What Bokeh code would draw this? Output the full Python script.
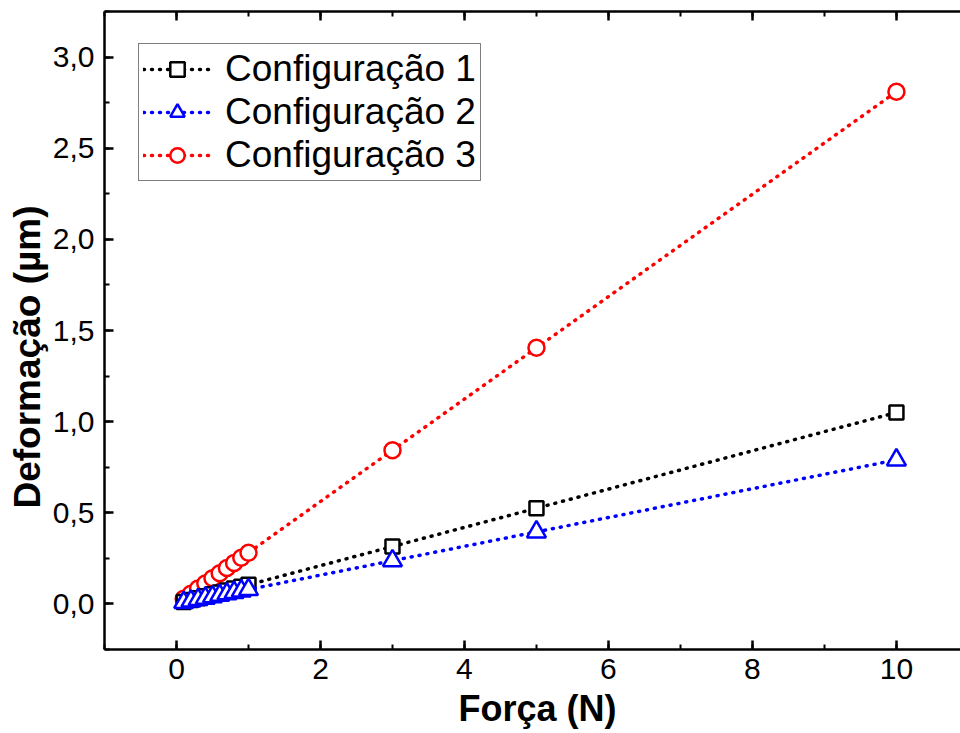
from bokeh.plotting import figure
from bokeh.models import (Range1d, LinearAxis, Legend, LegendItem, CustomJSTickFormatter,
                          SingleIntervalTicker, Title)
from bokeh.embed import file_html
from bokeh.resources import INLINE

forca = [0.1, 0.2, 0.3, 0.4, 0.5, 0.6, 0.7, 0.8, 0.9, 1.0, 3, 5, 10]
config1 = [0.0105, 0.021, 0.0315, 0.042, 0.0525, 0.063, 0.0735, 0.084, 0.0945, 0.105, 0.315, 0.525, 1.05]
config2 = [0.0079, 0.0158, 0.0237, 0.0316, 0.0395, 0.0474, 0.0553, 0.0632, 0.0711, 0.079, 0.237, 0.395, 0.79]
config3 = [0.0281, 0.0562, 0.0843, 0.1124, 0.1405, 0.1686, 0.1967, 0.2248, 0.2529, 0.281, 0.843, 1.405, 2.81]
labels = ["Configuração 1", "Configuração 2", "Configuração 3"]
x_title = "Força (N)"
y_title = "Deformação (µm)"

FONT = "Liberation Sans"

p = figure(width=960, height=733, output_backend="svg", toolbar_location=None,
           x_range=Range1d(-1, 10.89), y_range=Range1d(-0.25, 3.25),
           min_border_left=104, min_border_right=0, min_border_top=11, min_border_bottom=84)
p.outline_line_color = None
p.grid.visible = False
p.background_fill_color = "white"
p.border_fill_color = "white"

for ax in (p.xaxis[0], p.yaxis[0]):
    ax.axis_line_width = 2.5
    ax.major_tick_line_width = 2.5
    ax.minor_tick_line_width = 2
    ax.major_tick_in = 9
    ax.major_tick_out = 0
    ax.minor_tick_in = 5
    ax.minor_tick_out = 0
    ax.major_label_text_font = FONT
    ax.major_label_text_font_size = "30px"
    ax.major_label_text_color = "black"

p.xaxis[0].ticker = SingleIntervalTicker(interval=2, num_minor_ticks=2)
p.yaxis[0].ticker = SingleIntervalTicker(interval=0.5, num_minor_ticks=2)
p.yaxis[0].formatter = CustomJSTickFormatter(code="return tick.toFixed(1).replace('.', ',');")
p.xaxis[0].major_label_standoff = 9
p.yaxis[0].major_label_standoff = 10

top = LinearAxis(ticker=SingleIntervalTicker(interval=2, num_minor_ticks=2),
                 axis_line_width=2.5, major_tick_line_width=2.5, minor_tick_line_width=2,
                 major_tick_in=9, major_tick_out=0, minor_tick_in=5, minor_tick_out=0,
                 formatter=CustomJSTickFormatter(code="return '';"),
                 major_label_standoff=0)
p.add_layout(top, "above")

# axis titles as side-panel titles
p.add_layout(Title(text=x_title, align="left", offset=354, vertical_align="bottom", standoff=8,
                   text_font=FONT, text_font_size="36px", text_font_style="bold",
                   text_color="black"), "below")
p.add_layout(Title(text=y_title, align="left", offset=141, vertical_align="bottom", standoff=4,
                   text_font=FONT, text_font_size="37px", text_font_style="bold",
                   text_color="black"), "left")

dash = "1 7"
lw = 3.5

r3l = p.line(forca, config3, line_color="red", line_width=lw, line_dash=dash, line_cap="round")
r3s = p.scatter(forca, config3, marker="circle", size=16, line_color="red", line_width=2.5, fill_color="white")
r1l = p.line(forca, config1, line_color="black", line_width=lw, line_dash=dash, line_cap="round")
r1s = p.scatter(forca, config1, marker="square", size=14, line_color="black", line_width=2.5, fill_color="white")
r2l = p.line(forca, config2, line_color="blue", line_width=lw, line_dash=dash, line_cap="round")
r2s = p.scatter(forca, config2, marker="triangle", size=19, line_color="blue", line_width=2.5, fill_color="white")

legend = Legend(items=[LegendItem(label=labels[0], renderers=[r1l, r1s]),
                       LegendItem(label=labels[1], renderers=[r2l, r2s]),
                       LegendItem(label=labels[2], renderers=[r3l, r3s])],
                location=(34, 468))
legend.label_text_font = FONT
legend.label_text_font_size = "37px"
legend.label_text_color = "black"
legend.glyph_width = 68
legend.glyph_height = 36
legend.label_height = 36
legend.spacing = 1
legend.padding = 4
legend.margin = 0
legend.label_standoff = 14
legend.border_line_color = "black"
legend.border_line_width = 1.5
legend.background_fill_alpha = 1
p.add_layout(legend, "center")

open("out.html", "w").write(file_html(p, INLINE))
